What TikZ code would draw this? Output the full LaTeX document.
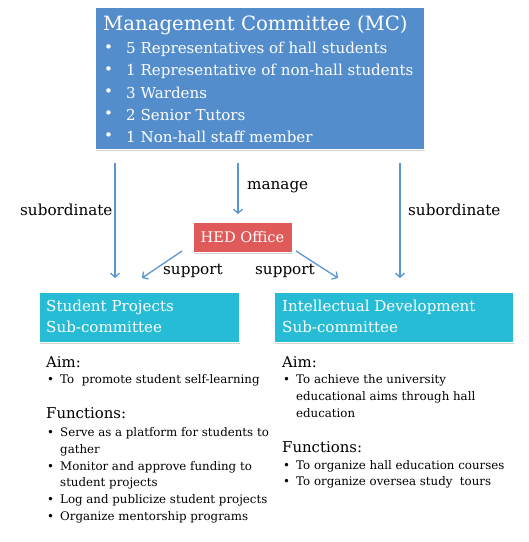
\documentclass[tikz,border=0pt]{standalone}
\usepackage{fontspec}
\setmainfont{DejaVu Serif}
\usetikzlibrary{arrows.meta,shadows}
\definecolor{mcblue}{RGB}{84,141,204}
\definecolor{hedred}{RGB}{224,90,90}
\definecolor{subcyan}{RGB}{38,188,213}
\definecolor{arrowblue}{RGB}{90,150,210}
\newcommand{\fs}[1]{\fontsize{#1}{#1}\selectfont}
\tikzset{
  box/.style={inner sep=0pt, draw=white, line width=0.8pt,
    drop shadow={shadow xshift=0.8pt, shadow yshift=-1.5pt, fill=black!30, opacity=0.6}},
  wtxt/.style={text=white, inner sep=0pt, anchor=west},
  btxt/.style={text=black, inner sep=0pt, anchor=west},
  body/.style={btxt, font=\fs{11.8}},
  head/.style={btxt, font=\fs{14.9}},
  mcitem/.style={wtxt, font=\fs{15.1}},
  subt/.style={wtxt, font=\fs{15.1}},
  conn/.style={draw=arrowblue, line width=1.3pt, -{Straight Barb[length=4pt,width=9pt]}},
  lbl/.style={inner sep=0pt, font=\fs{15.2}}
}
\begin{document}
\begin{tikzpicture}[x=1pt,y=-1pt]
\useasboundingbox (0,0) rectangle (529,542);
% boxes
\path[box, fill=mcblue] (95,7) rectangle (424,149);
\path[box, fill=hedred] (193,222) rectangle (292,252);
\path[box, fill=subcyan] (39,292) rectangle (239,342);
\path[box, fill=subcyan] (274,292) rectangle (513,342);
% MC text
\node[wtxt, font=\fs{19.7}] (mct) at (103,25) {Management Committee (MC)};
\node[mcitem] (mb1) at (104,49) {•};
\node[mcitem] (mi1) at (126,49) {5 Representatives of hall students};
\node[mcitem] (mb2) at (104,71) {•};
\node[mcitem] (mi2) at (126,71) {1 Representative of non-hall students};
\node[mcitem] (mb3) at (104,93) {•};
\node[mcitem] (mi3) at (126,93) {3 Wardens};
\node[mcitem] (mb4) at (104,115) {•};
\node[mcitem] (mi4) at (126,115) {2 Senior Tutors};
\node[mcitem] (mb5) at (104,137) {•};
\node[mcitem] (mi5) at (126,137) {1 Non-hall staff member};
% HED
\node[wtxt, font=\fs{14.6}, anchor=center] (hed) at (242.5,237) {HED Office};
% sub titles
\node[subt] (sp1) at (46,307) {Student Projects};
\node[subt] (sp2) at (46,327) {Sub-committee};
\node[subt] (id1) at (282,307) {Intellectual Development};
\node[subt] (id2) at (282,327) {Sub-committee};
% anchors for connectors
\coordinate (mcL) at (115,163);
\coordinate (mcM) at (238,163);
\coordinate (mcR) at (400,163);
\coordinate (spT) at (115,278);
\coordinate (idT) at (400,278);
\coordinate (hedT) at (238,214);
\coordinate (hedL) at (182,251);
\coordinate (hedR) at (296,251);
\coordinate (spS) at (142,278);
\coordinate (idS) at (338,278);
\draw[conn] (mcL) -- (spT);
\draw[conn] (mcM) -- (hedT);
\draw[conn] (mcR) -- (idT);
\draw[conn] (hedL) -- (spS);
\draw[conn] (hedR) -- (idS);
\node[lbl, anchor=west] (l1) at (20,210) {subordinate};
\node[lbl, anchor=west] (l2) at (247,187) {manage};
\node[lbl, anchor=west] (l3) at (408,210) {subordinate};
\node[lbl, anchor=west] (l4) at (163,271) {support};
\node[lbl, anchor=west] (l5) at (255,271) {support};
% left text
\node[head] (aL) at (46,362) {Aim:};
\node[body] (aLb1) at (47,380) {•};
\node[body] (aL1) at (60,380) {To\ \ promote student self-learning};
\node[head] (fL) at (46,413) {Functions:};
\node[body] (fLb1) at (47,433) {•};
\node[body] (fL1) at (60,433) {Serve as a platform for students to};
\node[body] (fL1b) at (60,450) {gather};
\node[body] (fLb2) at (47,467) {•};
\node[body] (fL2) at (60,467) {Monitor and approve funding to};
\node[body] (fL2b) at (60,483) {student projects};
\node[body] (fLb3) at (47,500) {•};
\node[body] (fL3) at (60,500) {Log and publicize student projects};
\node[body] (fLb4) at (47,517) {•};
\node[body] (fL4) at (60,517) {Organize mentorship programs};
% right text
\node[head] (aR) at (282,362) {Aim:};
\node[body] (aRb1) at (283,380) {•};
\node[body] (aR1) at (296,380) {To achieve the university};
\node[body] (aR1b) at (296,397) {educational aims through hall};
\node[body] (aR1c) at (296,413) {education};
\node[head] (fR) at (282,447) {Functions:};
\node[body] (fRb1) at (283,466) {•};
\node[body] (fR1) at (296,466) {To organize hall education courses};
\node[body] (fRb2) at (283,482) {•};
\node[body] (fR2) at (296,482) {To organize oversea study\ \ tours};
\end{tikzpicture}
\end{document}
